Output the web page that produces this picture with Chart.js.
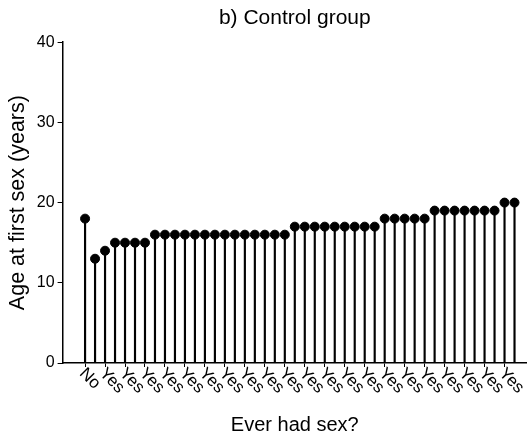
<!DOCTYPE html>
<html>
<head>
<meta charset="utf-8">
<script src="https://cdn.jsdelivr.net/npm/chart.js@4/dist/chart.umd.min.js"></script>
<style>
  html, body { margin: 0; padding: 0; background: #fff; }
  #wrap { width: 527px; height: 437px; }
</style>
</head>
<body>
<div id="wrap"><canvas id="lollipopChart"></canvas></div>
<script>
// 대조군 첫 성경험 나이 롤리팝 차트

const groupLabels = ['No',
    'Yes', 'Yes', 'Yes', 'Yes', 'Yes', 'Yes', 'Yes', 'Yes', 'Yes', 'Yes',
    'Yes', 'Yes', 'Yes', 'Yes', 'Yes', 'Yes', 'Yes', 'Yes', 'Yes', 'Yes',
    'Yes', 'Yes', 'Yes', 'Yes', 'Yes', 'Yes', 'Yes', 'Yes', 'Yes', 'Yes',
    'Yes', 'Yes', 'Yes', 'Yes', 'Yes', 'Yes', 'Yes', 'Yes', 'Yes', 'Yes',
    'Yes', 'Yes', 'Yes'];
const ages = [18, 13, 14, 15, 15, 15, 15,
    16, 16, 16, 16, 16, 16, 16, 16, 16, 16, 16, 16, 16, 16,
    17, 17, 17, 17, 17, 17, 17, 17, 17,
    18, 18, 18, 18, 18,
    19, 19, 19, 19, 19, 19, 19,
    20, 20];
const yTicks = [0, 10, 20, 30, 40];

const points = ages.map((v, i) => ({ x: i, y: v }));

// x 라벨 (45도 아래쪽으로 회전)
const slantLabels = {
    id: 'slantLabels',
    afterDraw(chart) {
        const ctx = chart.ctx;
        const xs = chart.scales.x;
        ctx.save();
        ctx.font = '17px "Liberation Sans", Arial, sans-serif';
        ctx.fillStyle = '#000';
        ctx.textAlign = 'left';
        ctx.textBaseline = 'middle';
        xs.ticks.forEach(t => {
            const px = xs.getPixelForValue(t.value);
            ctx.save();
            ctx.translate(px - 3, xs.top + 8);
            ctx.rotate(Math.PI / 4);
            ctx.fillText(groupLabels[t.value], 0, 0);
            ctx.restore();
        });
        ctx.restore();
    }
};

const chartE = document.getElementById('lollipopChart');
const lollipopChart = new Chart(chartE, {
    type: 'bar',
    data: {
        datasets: [{
            type: 'scatter',
            data: points,
            backgroundColor: '#000',
            borderColor: '#000',
            pointRadius: 4.5,
            pointHoverRadius: 4.5,
            clip: false,
            order: 0
        }, {
            type: 'bar',
            data: points,
            backgroundColor: '#000',
            borderWidth: 0,
            barThickness: 1.5,
            order: 1
        }]
    },
    options: {
        responsive: true,
        maintainAspectRatio: false,
        animation: false,
        layout: { padding: 0, autoPadding: false },
        scales: {
            x: {
                type: 'linear',
                offset: false,
                min: -2.25,
                max: 44.25,
                ticks: { display: false, stepSize: 2 },
                afterBuildTicks: s => {
                    s.ticks = s.ticks.filter(t => t.value >= 0 && t.value < ages.length && t.value % 2 === 0);
                },
                grid: { drawOnChartArea: false, tickLength: 4, color: '#000', lineWidth: 1, offset: false },
                border: { color: '#000', width: 1.5 },
                title: {
                    display: true,
                    text: 'Ever had sex?',
                    color: '#000',
                    font: { size: 20, family: '"Liberation Sans", Arial, sans-serif' },
                    padding: { top: 46, bottom: 0 }
                }
            },
            y: {
                min: 0,
                max: 40,
                afterBuildTicks: s => {
                    s.ticks = yTicks.map(v => ({ value: v }));
                },
                ticks: {
                    color: '#000',
                    padding: 3,
                    font: { size: 16, family: '"Liberation Sans", Arial, sans-serif' }
                },
                grid: { drawOnChartArea: false, tickLength: 5, color: '#000', lineWidth: 1 },
                border: { color: '#000', width: 1.5 },
                title: {
                    display: true,
                    text: 'Age at first sex (years)',
                    color: '#000',
                    font: { size: 21.5, family: '"Liberation Sans", Arial, sans-serif' },
                    padding: { top: 5, bottom: 3 }
                }
            }
        },
        plugins: {
            legend: { display: false },
            tooltip: { enabled: false },
            title: {
                display: true,
                fullSize: false,
                text: 'b) Control group',
                color: '#000',
                font: { size: 21, weight: 'normal', family: '"Liberation Sans", Arial, sans-serif' },
                padding: { top: 6, bottom: 11 }
            }
        }
    },
    plugins: [slantLabels]
});
</script>
</body>
</html>
